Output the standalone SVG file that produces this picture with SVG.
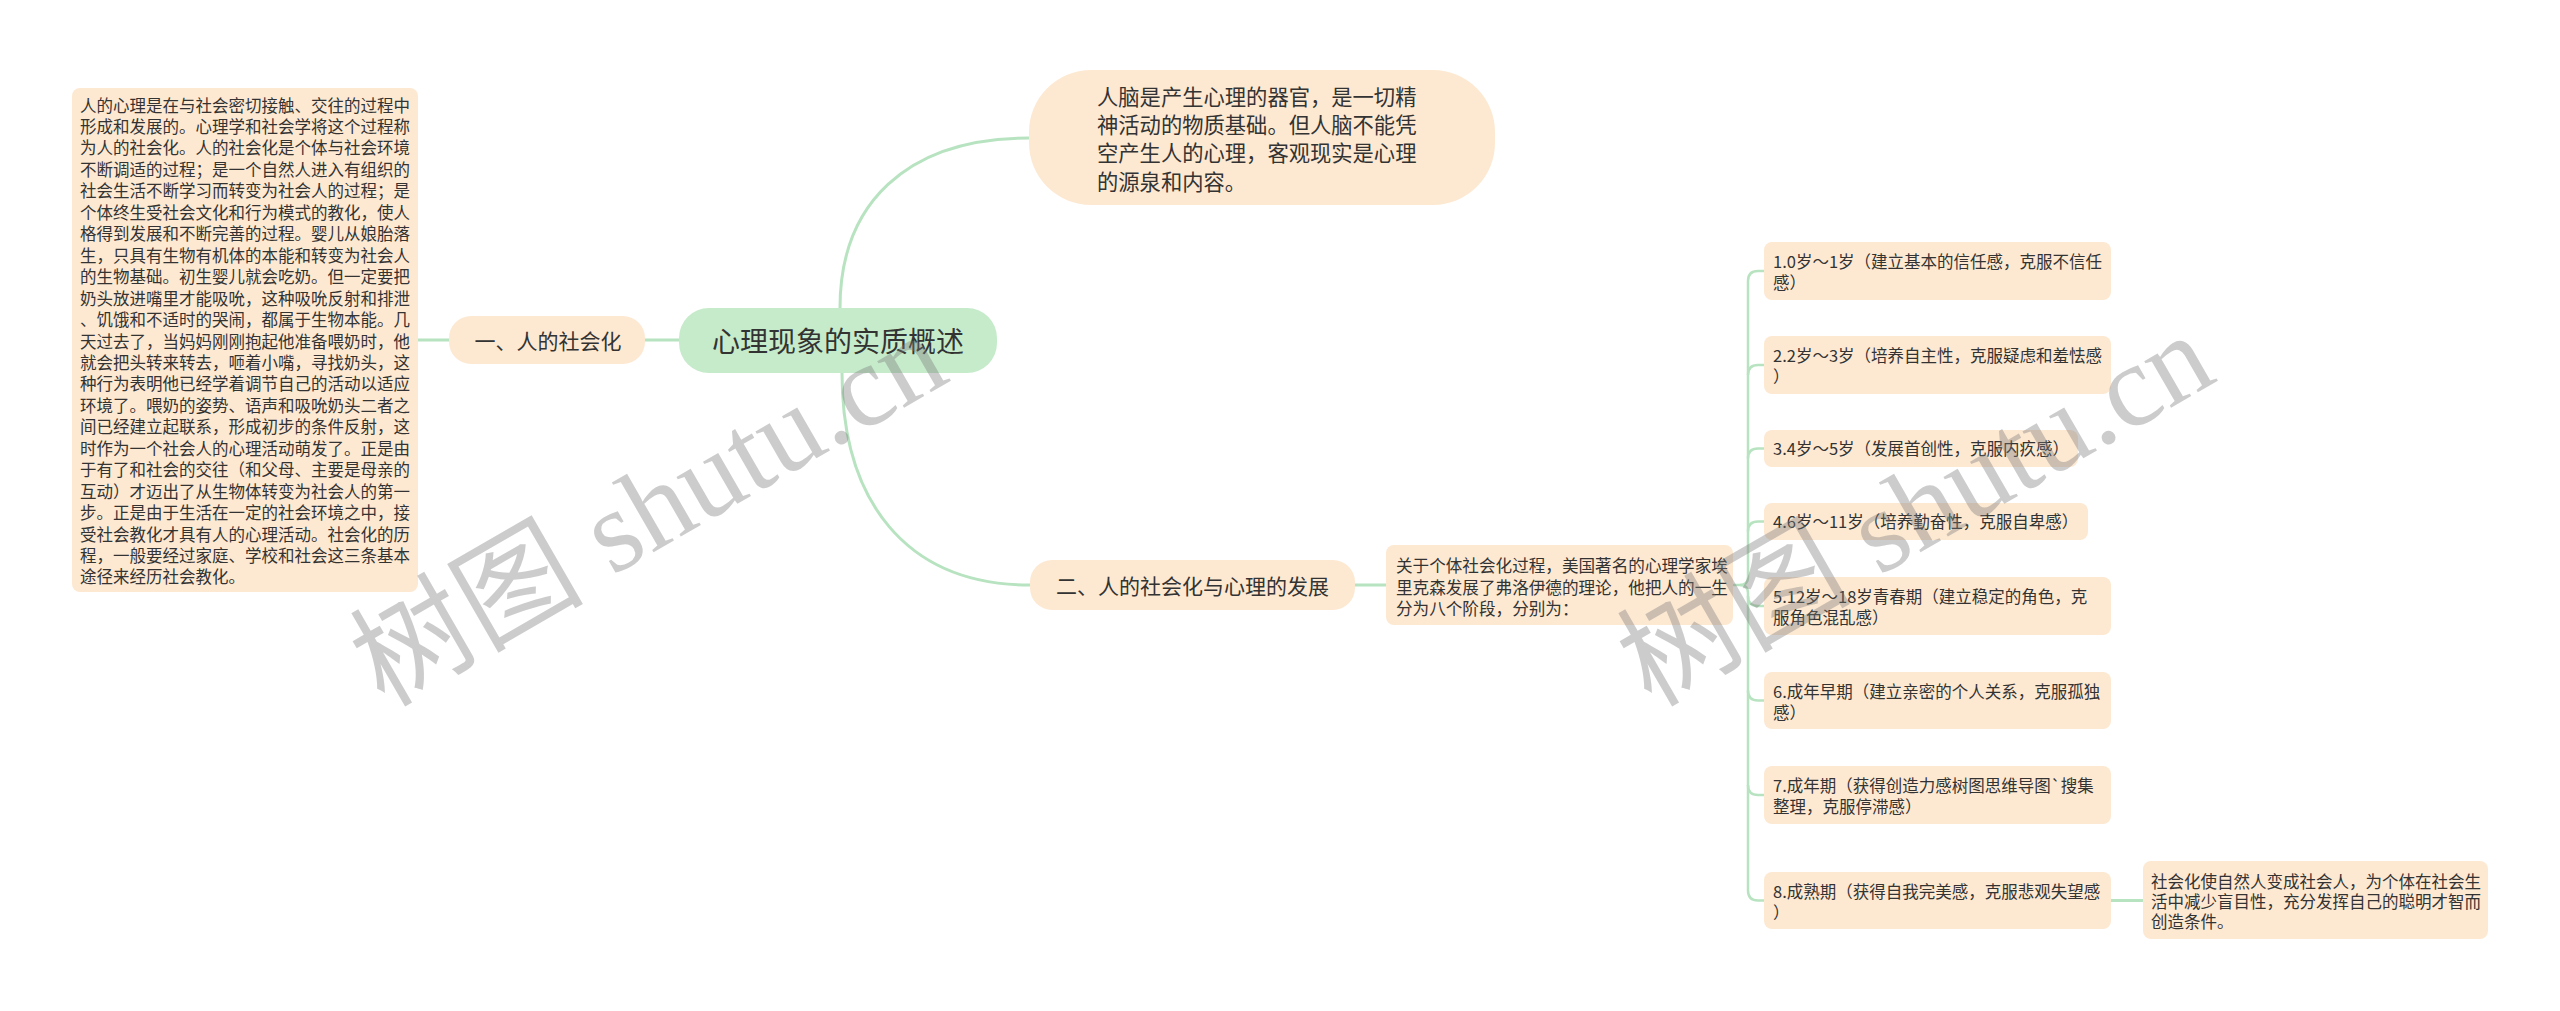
<svg xmlns="http://www.w3.org/2000/svg" width="2560" height="1011" viewBox="0 0 2560 1011">
<style>
.peach{fill:#fde9d2}
.green{fill:#c6ebcb}
.t{font-family:"Noto Sans CJK SC","Liberation Sans",sans-serif;fill:#333333}
.s{font-size:16.5px}
.m{font-size:21px}
.c{stroke:#b8e3c0;stroke-width:3;fill:none;stroke-linecap:round}
.c2{stroke:#b8e3c0;stroke-width:2.5;fill:none}
.wm{font-family:"Liberation Serif","Noto Sans CJK SC",serif;font-size:117px;fill:#7a7a7a;fill-opacity:0.38}
</style>
<rect width="2560" height="1011" fill="#ffffff"/>
<g id="connectors">
<path class="c" d="M418,340 H449"/>
<path class="c" d="M645,340 H679"/>
<path class="c" d="M840,308 C840,205 905,138 1029,138"/>
<path class="c" d="M842,373 C842,500 905,585 1030,585"/>
<path class="c" d="M1355,585 H1386"/>
<path class="c2" d="M1733,585 H1740 Q1748,585 1748,577 V281 Q1748,271 1758,271 H1764"/>
<path class="c2" d="M1748,375 Q1748,365 1758,365 H1764"/>
<path class="c2" d="M1748,458.5 Q1748,448.5 1758,448.5 H1764"/>
<path class="c2" d="M1748,531.5 Q1748,521.5 1758,521.5 H1764"/>
<path class="c2" d="M1740,585 Q1748,585 1748,593 V890.5 Q1748,900.5 1758,900.5 H1764"/>
<path class="c2" d="M1748,596 Q1748,606 1758,606 H1764"/>
<path class="c2" d="M1748,690.5 Q1748,700.5 1758,700.5 H1764"/>
<path class="c2" d="M1748,785 Q1748,795 1758,795 H1764"/>
<path class="c" d="M2111,900.5 H2143"/>
</g>
<g id="n-left-text">
<rect class="peach" x="72" y="88" width="346" height="504" rx="8"/>
<text class="t s" x="80">
<tspan x="80" y="111.5">人的心理是在与社会密切接触、交往的过程中</tspan>
<tspan x="80" y="133">形成和发展的。心理学和社会学将这个过程称</tspan>
<tspan x="80" y="154.4">为人的社会化。人的社会化是个体与社会环境</tspan>
<tspan x="80" y="175.9">不断调适的过程；是一个自然人进入有组织的</tspan>
<tspan x="80" y="197.3">社会生活不断学习而转变为社会人的过程；是</tspan>
<tspan x="80" y="218.8">个体终生受社会文化和行为模式的教化，使人</tspan>
<tspan x="80" y="240.2">格得到发展和不断完善的过程。婴儿从娘胎落</tspan>
<tspan x="80" y="261.7">生，只具有生物有机体的本能和转变为社会人</tspan>
<tspan x="80" y="283.1">的生物基础。初生婴儿就会吃奶。但一定要把</tspan>
<tspan x="80" y="304.6">奶头放进嘴里才能吸吮，这种吸吮反射和排泄</tspan>
<tspan x="80" y="326">、饥饿和不适时的哭闹，都属于生物本能。几</tspan>
<tspan x="80" y="347.5">天过去了，当妈妈刚刚抱起他准备喂奶时，他</tspan>
<tspan x="80" y="368.9">就会把头转来转去，咂着小嘴，寻找奶头，这</tspan>
<tspan x="80" y="390.4">种行为表明他已经学着调节自己的活动以适应</tspan>
<tspan x="80" y="411.8">环境了。喂奶的姿势、语声和吸吮奶头二者之</tspan>
<tspan x="80" y="433.3">间已经建立起联系，形成初步的条件反射，这</tspan>
<tspan x="80" y="454.7">时作为一个社会人的心理活动萌发了。正是由</tspan>
<tspan x="80" y="476.2">于有了和社会的交往（和父母、主要是母亲的</tspan>
<tspan x="80" y="497.6">互动）才迈出了从生物体转变为社会人的第一</tspan>
<tspan x="80" y="519.1">步。正是由于生活在一定的社会环境之中，接</tspan>
<tspan x="80" y="540.5">受社会教化才具有人的心理活动。社会化的历</tspan>
<tspan x="80" y="562">程，一般要经过家庭、学校和社会这三条基本</tspan>
<tspan x="80" y="583.4">途径来经历社会教化。</tspan>
</text>
</g>
<g id="n-social">
<rect class="peach" x="449" y="316" width="196" height="48" rx="22"/>
<text class="t m" x="548" y="349" text-anchor="middle">一、人的社会化</text>
</g>
<g id="n-root">
<rect class="green" x="679" y="308" width="318" height="65" rx="30"/>
<text class="t" x="838" y="351.5" text-anchor="middle" style="font-size:28px">心理现象的实质概述</text>
</g>
<g id="n-brain">
<rect class="peach" x="1029" y="70" width="466" height="135" rx="62"/>
<text class="t" style="font-size:21.3px">
<tspan x="1097" y="104.6">人脑是产生心理的器官，是一切精</tspan>
<tspan x="1097" y="132.9">神活动的物质基础。但人脑不能凭</tspan>
<tspan x="1097" y="161.2">空产生人的心理，客观现实是心理</tspan>
<tspan x="1097" y="189.5">的源泉和内容。</tspan>
</text>
</g>
<g id="n-dev">
<rect class="peach" x="1030" y="560" width="325" height="50" rx="22"/>
<text class="t m" x="1192.5" y="593.5" text-anchor="middle">二、人的社会化与心理的发展</text>
</g>
<g id="n-erikson">
<rect class="peach" x="1386" y="545" width="347" height="80" rx="8"/>
<text class="t" style="font-size:16.6px">
<tspan x="1396" y="572.3">关于个体社会化过程，美国著名的心理学家埃</tspan>
<tspan x="1396" y="593.8">里克森发展了弗洛伊德的理论，他把人的一生</tspan>
<tspan x="1396" y="615.3">分为八个阶段，分别为：</tspan>
</text>
</g>
<g id="n-stage1">
<rect class="peach" x="1764" y="242" width="347" height="58" rx="8"/>
<text class="t s"><tspan x="1773" y="268.3">1.0岁～1岁（建立基本的信任感，克服不信任</tspan><tspan x="1773" y="289.3">感）</tspan></text>
</g>
<g id="n-stage2">
<rect class="peach" x="1764" y="336" width="347" height="58" rx="8"/>
<text class="t s"><tspan x="1773" y="362.3">2.2岁～3岁（培养自主性，克服疑虑和羞怯感</tspan><tspan x="1773" y="383.3">）</tspan></text>
</g>
<g id="n-stage3">
<rect class="peach" x="1764" y="430" width="314" height="37" rx="8"/>
<text class="t s"><tspan x="1773" y="454.8">3.4岁～5岁（发展首创性，克服内疚感）</tspan></text>
</g>
<g id="n-stage4">
<rect class="peach" x="1764" y="503" width="324" height="37" rx="8"/>
<text class="t s"><tspan x="1773" y="527.8">4.6岁～11岁（培养勤奋性，克服自卑感）</tspan></text>
</g>
<g id="n-stage5">
<rect class="peach" x="1764" y="577" width="347" height="58" rx="8"/>
<text class="t s"><tspan x="1773" y="603.3">5.12岁～18岁青春期（建立稳定的角色，克</tspan><tspan x="1773" y="624.3">服角色混乱感）</tspan></text>
</g>
<g id="n-stage6">
<rect class="peach" x="1764" y="672" width="347" height="57" rx="8"/>
<text class="t s"><tspan x="1773" y="698.3">6.成年早期（建立亲密的个人关系，克服孤独</tspan><tspan x="1773" y="719.3">感）</tspan></text>
</g>
<g id="n-stage7">
<rect class="peach" x="1764" y="766" width="347" height="58" rx="8"/>
<text class="t s"><tspan x="1773" y="792.3">7.成年期（获得创造力感树图思维导图`搜集</tspan><tspan x="1773" y="813.3">整理，克服停滞感）</tspan></text>
</g>
<g id="n-stage8">
<rect class="peach" x="1764" y="872" width="347" height="57" rx="8"/>
<text class="t s"><tspan x="1773" y="898.3">8.成熟期（获得自我完美感，克服悲观失望感</tspan><tspan x="1773" y="919.3">）</tspan></text>
</g>
<g id="n-result">
<rect class="peach" x="2143" y="861" width="345" height="78" rx="8"/>
<text class="t s"><tspan x="2151" y="888.3">社会化使自然人变成社会人，为个体在社会生</tspan><tspan x="2151" y="908.3">活中减少盲目性，充分发挥自己的聪明才智而</tspan><tspan x="2151" y="928.3">创造条件。</tspan></text>
</g>
<g id="watermarks">
<text class="wm" transform="translate(384,708) rotate(-30)">树图 shutu.cn</text>
<text class="wm" transform="translate(1651,708) rotate(-30)">树图 shutu.cn</text>
</g>
</svg>
